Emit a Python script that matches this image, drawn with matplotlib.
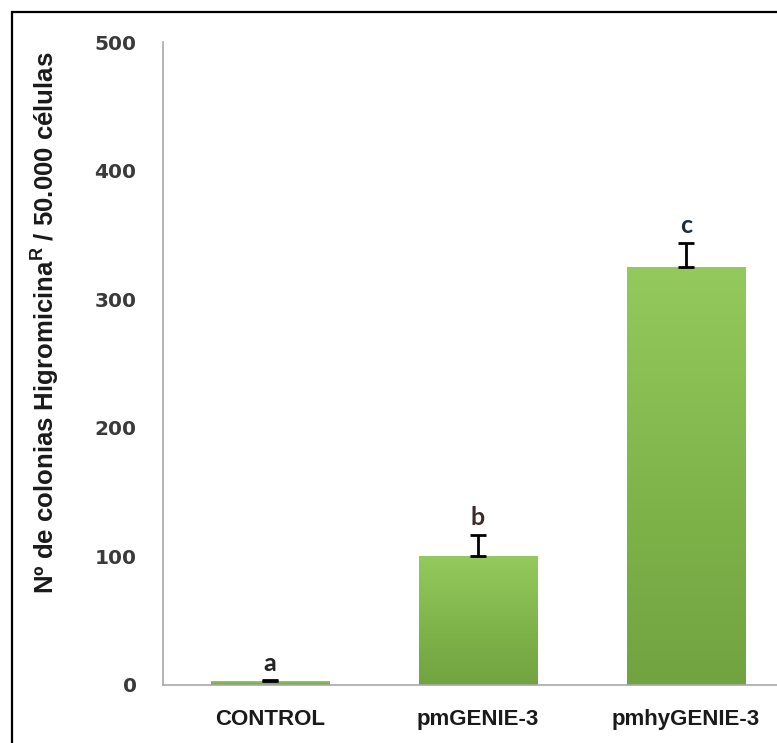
import numpy as np
import matplotlib
matplotlib.use("Agg")
import matplotlib.pyplot as plt
from matplotlib.patches import Rectangle
from matplotlib.colors import LinearSegmentedColormap

# data
categories = ["CONTROL", "pmGENIE-3", "pmhyGENIE-3"]
colonias = [3, 100, 325]
error_sup = [1, 17, 19]
letras = ["a", "b", "c"]
yticks = [0, 100, 200, 300, 400, 500]

plt.rcParams["mathtext.fontset"] = "custom"
plt.rcParams["mathtext.bf"] = "Liberation Sans:bold"
plt.rcParams["mathtext.rm"] = "Liberation Sans"

W, H = 777, 743
fig = plt.figure(figsize=(W / 100, H / 100), dpi=100)
fig.patch.set_facecolor("white")

# axes: y=0 at 685px, y=500 at 42px, left spine at 163px
ax = fig.add_axes([163 / W, (H - 685) / H, 628 / W, 643 / H])
x = np.arange(len(categories))
bars = ax.bar(x, colonias, width=0.57, color="#7db446", zorder=2)

# vertical green gradient, like the Excel fill
green = LinearSegmentedColormap.from_list("verde", ["#72a341", "#80b64b", "#94ca5d"])
grad = np.linspace(0, 1, 256).reshape(-1, 1)
for b in bars:
    b.set_facecolor("none")
    x0, y0 = b.get_x(), b.get_y()
    im = ax.imshow(grad, cmap=green, origin="lower", aspect="auto",
                   extent=[x0, x0 + b.get_width(), y0, y0 + b.get_height()], zorder=2)
    im.set_clip_path(b)

ax.errorbar(x, colonias, yerr=[np.zeros(len(x)), error_sup], fmt="none",
            ecolor="black", elinewidth=2, capsize=6, capthick=2, zorder=3)

letter_colors = ["#222222", "#3d2b2b", "#1f2d3d"]
for xi, v, e, t, c in zip(x, colonias, error_sup, letras, letter_colors):
    ax.text(xi, v + e + 4, t, ha="center", va="bottom", fontsize=18,
            fontweight="bold", family="Lato", color=c)

ax.set_xlim(-0.514, 2.506)
ax.set_ylim(0, 500)
ax.set_yticks(yticks)
ax.set_xticks(x)
ax.set_xticklabels(categories, fontsize=16, fontweight="bold",
                   family="Liberation Sans", color="#1a1a1a")
ax.set_yticklabels([str(t) for t in yticks], fontsize=14.5,
                   fontweight="bold", family="DejaVu Sans", color="#3a3a3a")
ax.tick_params(axis="y", length=0, pad=19)
ax.tick_params(axis="x", length=0, pad=17)

for s in ["top", "right"]:
    ax.spines[s].set_visible(False)
for s in ["left", "bottom"]:
    ax.spines[s].set_color("#a8a8a8")
    ax.spines[s].set_linewidth(1.2)

fig.text(45 / W, 1 - 323 / H, r"Nº de colonias Higromicina$^\mathbf{R}$ / 50.000 células",
         rotation=90, ha="center", va="center", fontsize=18.5, fontweight="bold",
         family="Liberation Sans", color="#1a1a1a")

# outer frame of the original figure (cropped on the right and bottom)
fig.patches.append(Rectangle((12 / W, -0.1), 1.2, 1.1 - 12 / H, transform=fig.transFigure,
                             fill=False, edgecolor="black", linewidth=1.6))

fig.savefig("out.png", dpi=100)
